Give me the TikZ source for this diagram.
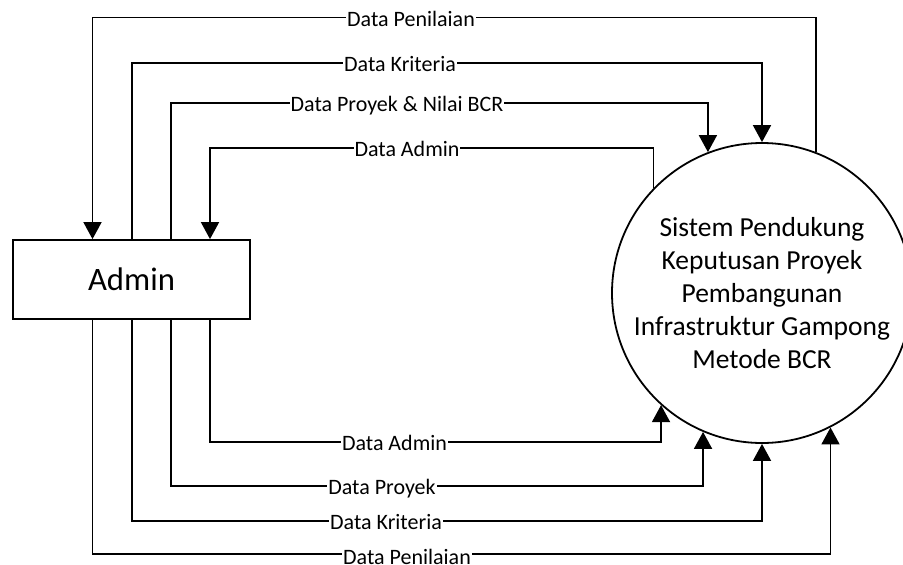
\documentclass[tikz,border=0pt]{standalone}
\usepackage{fontspec}
\setmainfont{Carlito}
\usetikzlibrary{arrows.meta}
\begin{document}
\begin{tikzpicture}[x=1pt,y=-1pt,
  flow/.style={line width=1.8pt,-{Triangle[width=18pt,length=17pt]}},
  lbl/.style={fill=white,inner xsep=1pt,inner ysep=1pt,anchor=base,font=\fontsize{22}{26}\selectfont},
  box/.style={draw,line width=1.8pt,minimum width=237pt,minimum height=79pt,inner sep=0pt,font=\fontsize{32.7}{38}\selectfont},
  proc/.style={draw,line width=1.8pt,circle,minimum size=300pt,inner sep=0pt,align=center,font=\fontsize{27.5}{33}\selectfont}]
\useasboundingbox (0,0) rectangle (903,565);
\clip (0,0) rectangle (903,565);
\fill[white] (0,0) rectangle (903,565);
\node[box] (admin) at (131.5,279.5) {Admin};
\node[proc] (sys) at (762,293) {Sistem Pendukung\\Keputusan Proyek\\Pembangunan\\Infrastruktur Gampong\\Metode BCR};
\coordinate (c1) at (92.5,0);
\coordinate (c2) at (131.7,0);
\coordinate (c3) at (171,0);
\coordinate (c4) at (210,0);
\coordinate (t1) at (0,17.5);
\coordinate (t2) at (0,63.3);
\coordinate (t3) at (0,103.3);
\coordinate (t4) at (0,148.3);
\coordinate (b1) at (0,441.7);
\coordinate (b2) at (0,485.7);
\coordinate (b3) at (0,520.7);
\coordinate (b4) at (0,554);
% top flows
\draw[flow] (sys.69.7) -- (sys.69.7 |- t1) -- (c1 |- t1) -- (admin.north -| c1);
\draw[flow] (admin.north -| c2) -- (c2 |- t2) -- (sys.north |- t2) -- (sys.north);
\draw[flow] (admin.north -| c3) -- (c3 |- t3) -- (sys.111.5 |- t3) -- (sys.111.5);
\draw[flow] (sys.136.05) -- (sys.136.05 |- t4) -- (c4 |- t4) -- (admin.north -| c4);
% bottom flows
\draw[flow] (admin.south -| c4) -- (c4 |- b1) -- (sys.-132.84 |- b1) -- (sys.-132.84);
\draw[flow] (admin.south -| c3) -- (c3 |- b2) -- (sys.-113.58 |- b2) -- (sys.-113.58);
\draw[flow] (admin.south -| c2) -- (c2 |- b3) -- (sys.south |- b3) -- (sys.south);
\draw[flow] (admin.south -| c1) -- (c1 |- b4) -- (sys.-63.47 |- b4) -- (sys.-63.47);
% labels
\node[lbl] (l1) at (411,26.3) {Data Penilaian};
\node[lbl] (l2) at (400,71.8) {Data Kriteria};
\node[lbl] (l3) at (397,111.8) {Data Proyek \& Nilai BCR};
\node[lbl] (l4) at (407,156.8) {Data Admin};
\node[lbl] (l5) at (394.5,450.2) {Data Admin};
\node[lbl] (l6) at (382,494.2) {Data Proyek};
\node[lbl] (l7) at (386,529.2) {Data Kriteria};
\node[lbl] (l8) at (407,564) {Data Penilaian};
\end{tikzpicture}
\end{document}
